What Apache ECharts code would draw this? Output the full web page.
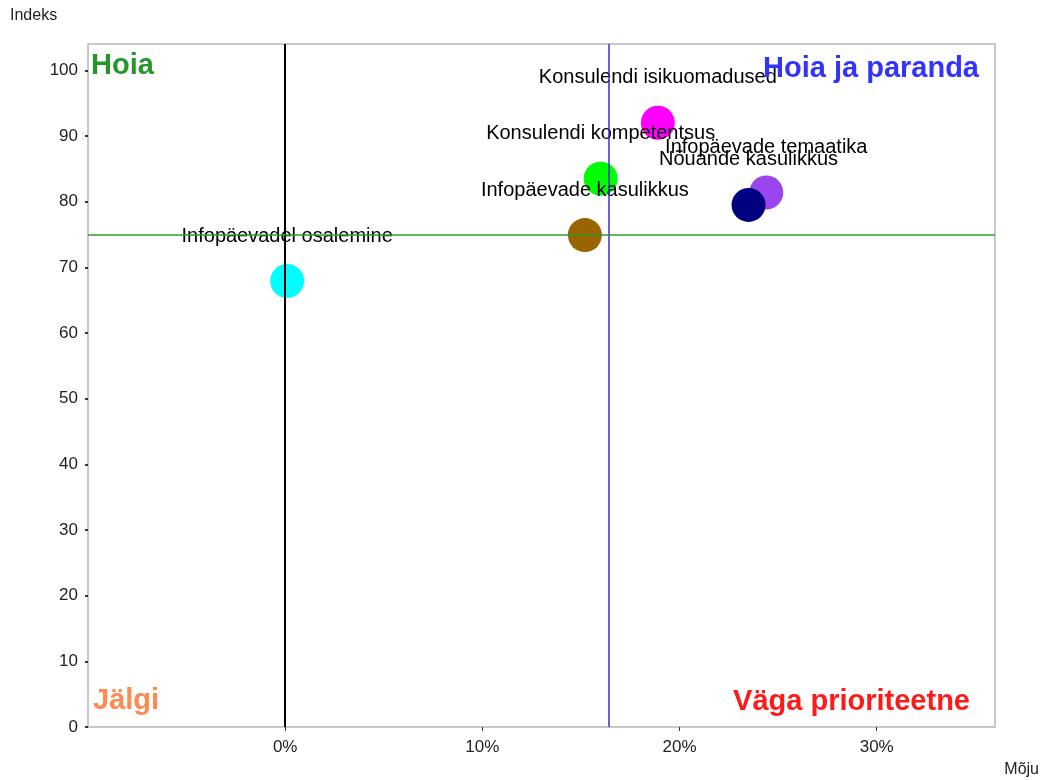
<!DOCTYPE html>
<html>
	<head>
		<meta charset="utf-8">
		<title>Mõju / Indeks</title>
		<script src="https://cdn.jsdelivr.net/npm/echarts@6/dist/echarts.min.js"></script>
		<style>
			html,body {
				margin: 0;
				padding: 0;
				background-color: #fff;
			}
			#chart{
				width: 1043px;
				height: 780px;
			}
		</style>
	</head>
	<body>
		<div id="chart"></div>
	<script>
		// andmed (x = mõju %, y = indeks)
		var names = ["Infopäevadel osalemine", "Infopäevade kasulikkus", "Konsulendi kompetentsus",
		        "Konsulendi isikuomadused", "Infopäevade temaatika", "Nõuande kasulikkus"];
		var moju = [0.1, 15.2, 16.0, 18.9, 24.4, 23.5];
		var indeks = [67.9, 74.9, 83.5, 92.0, 81.4, 79.5];
		var colors = ["#00ffff", "#9a6500", "#00ff00", "#ff00ff", "#9b45ee", "#000080"];
		var mojuKeskmine = 16.4;   // sinine joon
		var indeksPiir = 75;       // roheline joon
		// telje jaotised
		var xTicks = [0, 10, 20, 30];
		var yTicks = [0, 10, 20, 30, 40, 50, 60, 70, 80, 90, 100];

		var byId = function(id) {
			return document.getElementById(id);
		};

		var data = names.map(function (n, i) {
			return {
				name: n,
				value: [moju[i], indeks[i]],
				itemStyle: { color: colors[i], opacity: 1 }
			};
		});

		var quadFont = 'bold 29px "Liberation Sans", Arial, sans-serif';

		var option = {
			animation: false,
			backgroundColor: '#fff',
			grid: {
				left: 88,
				right: 48,
				top: 44,
				bottom: 53,
				show: true,
				borderColor: '#c8c8c8',
				borderWidth: 2
			},
			xAxis: {
				type: 'value',
				min: -10,
				max: 36,
				interval: 10,
				splitLine: { show: false },
				axisLine: { show: false, onZero: false },
				axisTick: { show: true, length: 4, customValues: xTicks, lineStyle: { color: '#333' } },
				axisLabel: {
					margin: 12,
					fontSize: 17,
					fontFamily: 'Liberation Sans',
					color: '#222',
					customValues: xTicks,
					formatter: '{value}%'
				}
			},
			yAxis: {
				type: 'value',
				min: 0,
				max: 104,
				interval: 10,
				splitLine: { show: false },
				axisLine: { show: false, onZero: false },
				axisTick: { show: true, length: 3, customValues: yTicks, lineStyle: { color: '#333', width: 2 } },
				axisLabel: {
					margin: 10,
					fontSize: 17,
					fontFamily: 'Liberation Sans',
					color: '#222',
					customValues: yTicks
				}
			},
			graphic: [
				{ type: 'text', left: 10, top: 8, style: { text: 'Indeks', font: '16px "Liberation Sans", Arial', fill: '#222' } },
				{ type: 'text', right: 4, bottom: 2, style: { text: 'Mõju', font: '16px "Liberation Sans", Arial', fill: '#222' } },
				{ type: 'text', left: 91, top: 51, z: 10, style: { text: 'Hoia', font: quadFont, fill: '#26962a' } },
				{ type: 'text', right: 64, top: 54, z: 10, style: { text: 'Hoia ja paranda', font: quadFont, fill: '#3333ff' } },
				{ type: 'text', left: 93, top: 686, z: 10, style: { text: 'Jälgi', font: quadFont, fill: '#ff8a50' } },
				{ type: 'text', right: 73, top: 687, z: 10, style: { text: 'Väga prioriteetne', font: quadFont, fill: '#ff1a1a' } }
			],
			series: [{
				type: 'scatter',
				symbol: 'circle',
				symbolSize: 34,
				data: data,
				label: {
					show: true,
					position: 'top',
					distance: 18,
					formatter: '{b}',
					fontSize: 20,
					fontFamily: 'Liberation Sans',
					color: '#000',
					opacity: 1
				},
				labelLayout: { hideOverlap: false },
				markLine: {
					silent: true,
					symbol: 'none',
					label: { show: false },
					data: [
						{ xAxis: 0, lineStyle: { color: '#000', width: 2, type: 'solid' } },
						{ xAxis: mojuKeskmine, lineStyle: { color: '#3333cc', width: 1.5, type: 'solid' } },
						{ yAxis: indeksPiir, lineStyle: { color: '#2e9a2e', width: 1.5, type: 'solid' } }
					]
				},
				z: 3
			}]
		};

		var chart = echarts.init(byId('chart'));
		chart.setOption(option);
	</script>
	</body>
</html>
